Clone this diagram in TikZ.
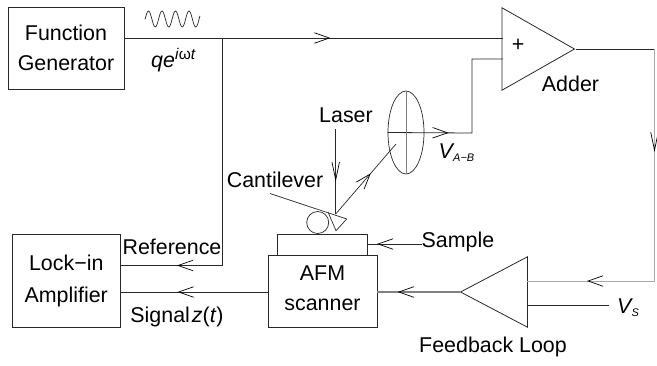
\documentclass[tikz,border=0pt]{standalone}
\usepackage{fontspec}
\setmainfont{Liberation Sans}
\usetikzlibrary{arrows.meta,shapes.geometric,decorations.markings}
\definecolor{wire}{RGB}{40, 40, 40}
\definecolor{pale}{RGB}{170, 170, 170}
\tikzstyle{block} = [rectangle, draw=wire, line width=0.8pt, inner sep=0pt, align=center, font=\fontsize{21.4}{30}\selectfont]
\tikzstyle{lbl} = [inner sep=0pt, font=\fontsize{21.4}{30}\selectfont]
\tikzstyle{amp} = [isosceles triangle, isosceles triangle stretches, draw=wire, line width=0.8pt, inner sep=0pt]
\tikzstyle{wired} = [draw=wire, line width=0.8pt]
\tikzstyle{flow} = [postaction={decorate, decoration={markings, mark=at position #1 with {\arrow[draw=black]{Straight Barb[length=15pt,width=10.5pt,line width=0.7pt]}}}}]
\tikzstyle{dropflow} = [postaction={decorate, decoration={markings, mark=at position #1 with {\arrow[draw=black]{Straight Barb[length=18pt,width=7.5pt,line width=0.7pt]}}}}]
\newcommand{\supr}[1]{\raisebox{8pt}{\fontsize{15.5}{16}\selectfont #1}}
\newcommand{\subr}[1]{\hspace{-1.5pt}\raisebox{-3pt}{\fontsize{11}{12}\selectfont\textit{#1}}}

\begin{document}
\begin{tikzpicture}[x=1pt, y=-1pt]
\useasboundingbox (0,0) rectangle (657,365);

% blocks =============================

\node[block, minimum width=116pt, minimum height=82pt] (fungen) at (66,48.5) {Function\\Generator\rule[-2pt]{0pt}{1pt}};
\node[block, minimum width=107.5pt, minimum height=93pt] (lockin) at (66.25,280.5) {Lock−in\\[2pt]Amplifier};
\node[block, minimum width=109pt, minimum height=72pt] (scanner) at (322.5,291) {AFM\\scanner\rule[-6pt]{0pt}{1pt}};
\node[block, minimum width=90pt, minimum height=21pt] (sample) at (322,244.5) {};

% adder and feedback
\node[amp, anchor=apex, minimum width=82.5pt, minimum height=72.5pt] (adder) at (575.5,49) {};
\node[amp, anchor=apex, shape border rotate=180, minimum width=70.5pt, minimum height=67pt] (feedback) at (459.5,292) {};

% detector and cantilever
\node[ellipse, draw=wire, line width=0.7pt, inner sep=0pt, minimum width=36pt, minimum height=83pt] (detector) at (406,132.5) {};
\node[circle, draw=wire, line width=0.7pt, inner sep=0pt, minimum size=22pt] (probe) at (317.7,222.5) {};
\draw[wired, line width=0.7pt] (328,212) -- (336,230.7) -- (346.7,219);

% junctions
\coordinate (branch) at (222.5,38);
\coordinate (addtop) at (503,38);
\coordinate (addlow) at (503,59);
\coordinate (bend1) at (472,133);
\coordinate (bend2) at (472,59);
\coordinate (corner1) at (654.5,49);
\coordinate (corner2) at (654.5,281);
\coordinate (fbin) at (526.5,281);
\coordinate (vsin) at (526.5,305);
\coordinate (vsend) at (609,305);
\coordinate (refbend) at (222.5,265.5);
\coordinate (sigrow) at (200,292);
\coordinate (laserstart) at (335.7,129);
\coordinate (spot) at (335.7,214);
\coordinate (hit) at (396,144);
\coordinate (armstart) at (270,193.5);
\coordinate (armend) at (346.7,219);
\coordinate (samplestart) at (422,244);

% labels
\node[lbl] (laser) at (346,115) {Laser};
\node[lbl] (cantilever) at (275,180) {Cantilever};
\node[lbl] (samplelbl) at (458,242) {Sample};
\node[lbl] (adderlbl) at (570.5,84) {Adder};
\node[lbl] (reflbl) at (172,247) {Reference};
\node[lbl] (siglbl) at (177,317) {Signal\hspace{2pt}\textit{z}(\textit{t})};
\node[lbl] (looplbl) at (493,347) {Feedback Loop};
\node[lbl] (qlbl) at (173.5,60) {\textit{qe}\supr{\textit{i}ω\textit{t}}};
\node[lbl] (vablbl) at (456.5,153) {\textit{V}\subr{A−B}};
\node[lbl] (vslbl) at (628,308) {\textit{V}\subr{S}};
\node[lbl] (plus) at (518,45.5) {+};

% carrier wave
\draw[wired, line width=0.7pt] plot[domain=145:200, samples=90, smooth] (\x,{19-8*cos(26.667*(\x-148.5))});

% edges =============================

% generator to adder and lock-in
\path[wired, flow=206pt] (fungen.east |- branch) -- (addtop);
\path[wired, flow=273pt] (branch) -- (refbend) -- (lockin.east |- refbend);

% detector to adder
\path[wired, flow=61pt] (detector.west) -- (bend1) -- (bend2) -- (addlow);
\path[draw=gray, line width=1pt] (detector.north) -- (detector.south);

% beam
\path[wired, line width=0.7pt, dropflow=52.7pt] (laserstart) -- (spot);
\path[wired, line width=0.7pt, flow=53.6pt] (spot) -- (hit);
\path[wired, line width=0.7pt] (armstart) -- (armend);
\path[wired, line width=0.7pt, flow=45pt] (samplestart) -- (sample.east |- samplestart);

% feedback loop
\path[wired] (adder.apex) -- (corner1);
\path[draw=pale, line width=0.8pt, dropflow=103pt, flow=299.5pt] (corner1) -- (corner2) -- (fbin);
\path[wired] (vsin) -- (vsend);
\path[draw=gray, line width=1.2pt, flow=61.8pt] (feedback.apex) -- (scanner.east |- feedback.apex);
\path[wired, flow=90pt] (scanner.west |- sigrow) -- (lockin.east |- sigrow);

\end{tikzpicture}
\end{document}
